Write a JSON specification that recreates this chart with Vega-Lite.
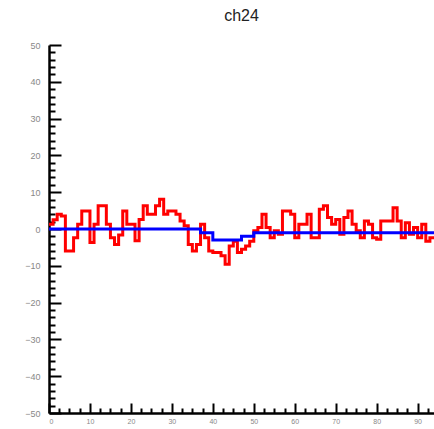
{
  "$schema": "https://vega.github.io/schema/vega-lite/v6.json",
  "width": 385,
  "height": 368,
  "autosize": {"type": "none"},
  "padding": {"left": 49, "top": 45, "right": 0, "bottom": 16},
  "title": {"text": "ch24", "fontSize": 16, "fontWeight": "normal", "color": "#222", "offset": 17, "anchor": "middle", "font": "Liberation Sans"},
  "datasets": {
    "red": [
      {"x": 0, "y": 1.3}, {"x": 1, "y": 2.5}, {"x": 2, "y": 4.0}, {"x": 3, "y": 3.5}, {"x": 4, "y": -6.0},
      {"x": 5, "y": -6.0}, {"x": 6, "y": -2.4}, {"x": 7, "y": 1.3}, {"x": 8, "y": 4.9}, {"x": 9, "y": 4.9},
      {"x": 10, "y": -3.7}, {"x": 11, "y": 1.3}, {"x": 12, "y": 6.3}, {"x": 13, "y": 6.3}, {"x": 14, "y": 1.3},
      {"x": 15, "y": -2.4}, {"x": 16, "y": -4.2}, {"x": 17, "y": -1.6}, {"x": 18, "y": 4.9}, {"x": 19, "y": 1.3},
      {"x": 20, "y": 1.3}, {"x": 21, "y": -3.2}, {"x": 22, "y": 2.6}, {"x": 23, "y": 6.3}, {"x": 24, "y": 4.0},
      {"x": 25, "y": 4.0}, {"x": 26, "y": 6.3}, {"x": 27, "y": 8.1}, {"x": 28, "y": 4.0}, {"x": 29, "y": 4.9},
      {"x": 30, "y": 4.9}, {"x": 31, "y": 4.0}, {"x": 32, "y": 2.2}, {"x": 33, "y": 0.9}, {"x": 34, "y": -4.2},
      {"x": 35, "y": -6.0}, {"x": 36, "y": -4.2}, {"x": 37, "y": 1.3}, {"x": 38, "y": -2.4}, {"x": 39, "y": -6.0},
      {"x": 40, "y": -6.4}, {"x": 41, "y": -6.4}, {"x": 42, "y": -7.3}, {"x": 43, "y": -9.6}, {"x": 44, "y": -4.6},
      {"x": 45, "y": -3.3}, {"x": 46, "y": -6.4}, {"x": 47, "y": -5.5}, {"x": 48, "y": -4.6}, {"x": 49, "y": -3.3},
      {"x": 50, "y": -0.5}, {"x": 51, "y": 0.4}, {"x": 52, "y": 4.0}, {"x": 53, "y": 0.4}, {"x": 54, "y": -2.4},
      {"x": 55, "y": -0.5}, {"x": 56, "y": -1.4}, {"x": 57, "y": 4.9}, {"x": 58, "y": 4.9}, {"x": 59, "y": 4.0},
      {"x": 60, "y": -2.4}, {"x": 61, "y": 1.3}, {"x": 62, "y": 1.3}, {"x": 63, "y": 4.0}, {"x": 64, "y": -2.4},
      {"x": 65, "y": -2.4}, {"x": 66, "y": 5.4}, {"x": 67, "y": 6.3}, {"x": 68, "y": 3.1}, {"x": 69, "y": 1.3},
      {"x": 70, "y": 2.6}, {"x": 71, "y": -1.4}, {"x": 72, "y": 3.1}, {"x": 73, "y": 4.9}, {"x": 74, "y": 1.3},
      {"x": 75, "y": -0.5}, {"x": 76, "y": -2.4}, {"x": 77, "y": 2.2}, {"x": 78, "y": 1.3}, {"x": 79, "y": -2.4},
      {"x": 80, "y": -2.8}, {"x": 81, "y": 2.2}, {"x": 82, "y": 2.2}, {"x": 83, "y": 2.2}, {"x": 84, "y": 5.8},
      {"x": 85, "y": 2.2}, {"x": 86, "y": -2.4}, {"x": 87, "y": 1.7}, {"x": 88, "y": -1.4}, {"x": 89, "y": 0.4},
      {"x": 90, "y": -2.4}, {"x": 91, "y": 1.3}, {"x": 92, "y": -3.3}, {"x": 93, "y": -2.4}, {"x": 94, "y": -2.4}
    ],
    "blue": [
      {"x": 0, "y": 0}, {"x": 37, "y": -1}, {"x": 40, "y": -3}, {"x": 47, "y": -2}, {"x": 50, "y": -1}, {"x": 94, "y": -1}
    ]
  },
  "layer": [
    {
      "data": {"name": "red"},
      "mark": {"type": "line", "interpolate": "step-after", "color": "#ff0000", "strokeWidth": 3, "clip": true},
      "encoding": {
        "x": {"field": "x", "type": "quantitative", "scale": {"domain": [0, 94], "nice": false, "zero": false},
          "axis": {"orient": "bottom", "title": null, "grid": false, "values": [0, 10, 20, 30, 40, 50, 60, 70, 80, 90],
            "tickSize": -10, "tickWidth": 2, "tickColor": "#000", "domain": true, "domainWidth": 2.5, "domainColor": "#000",
            "labelFontSize": 7, "labelColor": "#888", "labelPadding": 14, "labelFont": "Liberation Sans"}},
        "y": {"field": "y", "type": "quantitative", "scale": {"domain": [-50, 50], "nice": false},
          "axis": {"orient": "left", "title": null, "grid": false, "values": [-50, -40, -30, -20, -10, 0, 10, 20, 30, 40, 50],
            "tickSize": -12, "tickWidth": 2, "tickColor": "#000", "domain": true, "domainWidth": 2.5, "domainColor": "#000",
            "labelFontSize": 9, "labelColor": "#888", "labelPadding": 21, "labelFont": "Liberation Sans"}}
      }
    },
    {
      "data": {"name": "blue"},
      "mark": {"type": "line", "interpolate": "step-after", "color": "#0000ff", "strokeWidth": 3, "clip": true},
      "encoding": {
        "x": {"field": "x", "type": "quantitative",
          "axis": {"orient": "bottom", "title": null, "grid": false, "labels": false, "domain": false,
            "values": [2.5, 5, 7.5, 12.5, 15, 17.5, 22.5, 25, 27.5, 32.5, 35, 37.5, 42.5, 45, 47.5, 52.5, 55, 57.5, 62.5, 65, 67.5, 72.5, 75, 77.5, 82.5, 85, 87.5, 92.5],
            "tickSize": -5, "tickWidth": 2, "tickColor": "#000"}},
        "y": {"field": "y", "type": "quantitative",
          "axis": {"orient": "left", "title": null, "grid": false, "labels": false, "domain": false,
            "values": [-48, -46, -44, -42, -38, -36, -34, -32, -28, -26, -24, -22, -18, -16, -14, -12, -8, -6, -4, -2, 2, 4, 6, 8, 12, 14, 16, 18, 22, 24, 26, 28, 32, 34, 36, 38, 42, 44, 46, 48],
            "tickSize": -6, "tickWidth": 2, "tickColor": "#000"}}
      }
    }
  ],
  "resolve": {"axis": {"x": "independent", "y": "independent"}},
  "config": {"view": {"stroke": null}}
}
